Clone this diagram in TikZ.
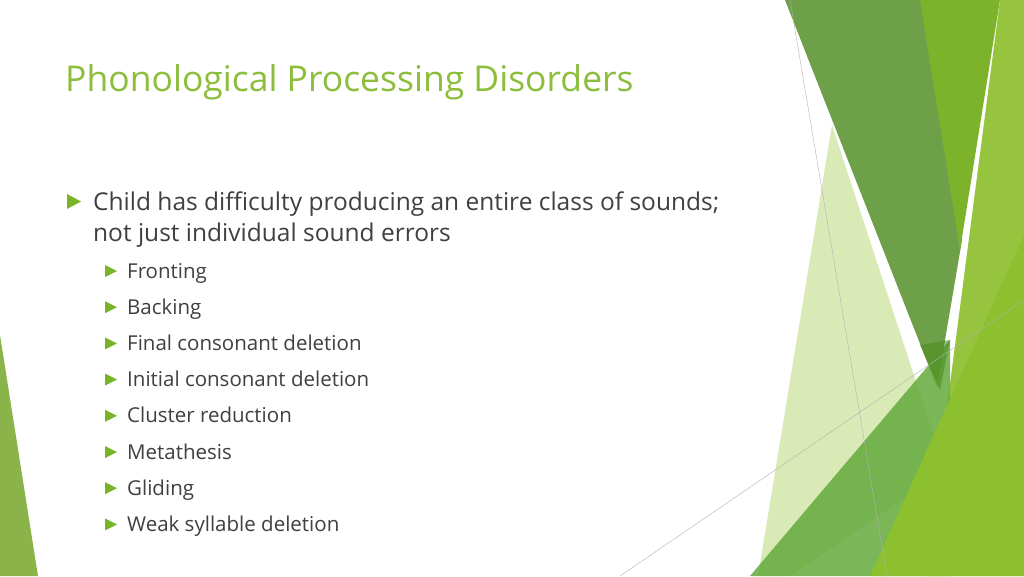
\documentclass[tikz,border=0pt]{standalone}
\usepackage{fontspec}
\setmainfont{Open Sans}
\definecolor{ttl}{RGB}{140,190,60}
\definecolor{txt}{RGB}{64,64,64}
\definecolor{bul}{RGB}{120,180,40}
\definecolor{cA}{RGB}{213,232,176}
\definecolor{cB}{RGB}{110,160,74}
\definecolor{cC}{RGB}{124,179,42}
\definecolor{cD}{RGB}{151,196,62}
\definecolor{cE}{RGB}{100,170,60}
\definecolor{cF}{RGB}{140,192,47}
\definecolor{cG}{RGB}{75,140,30}
\tikzset{
  tri/.style={fill=bul},
  body/.style={anchor=base west,inner sep=0,text=txt,font=\fontsize{24.5}{28}\selectfont},
  sub/.style={anchor=base west,inner sep=0,text=txt,font=\fontsize{20.5}{24}\selectfont},
  hair/.style={draw=black!30,line width=0.4pt}
}
\begin{document}
\begin{tikzpicture}[x=1pt,y=-1pt]
\useasboundingbox (0,0) rectangle (1024,576);
\fill[white] (0,0) rectangle (1024,576);
\fill[ttl!90!black, opacity=0.9] (0,335) -- (38,576) -- (0,576) -- cycle;
\fill[cA, opacity=0.9] (832,125) -- (945,470) -- (790,576) -- (758,576) -- cycle;
\fill[cB] (785,0) -- (927,0) -- (962,240) -- (937,387) -- cycle;
\fill[cC] (920,0) -- (1000,0) -- (960,250) -- cycle;
\fill[cD] (1000,0) -- (1024,0) -- (1024,576) -- (925,576) -- cycle;
\fill[cE, opacity=0.85] (950,340) -- (950,576) -- (750,576) -- cycle;
\fill[cF] (1024,235) -- (1024,576) -- (870,576) -- cycle;
\fill[cG, opacity=0.6] (950,340) -- (940,390) -- (920,345)-- cycle;
\draw[hair] (790,0) -- (887,576);
\draw[hair] (620,576) -- (1024,300);
\node[anchor=base west,inner sep=0,text=ttl,font=\fontsize{35.5}{40}\selectfont] (title) at (65,91) {Phonological Processing Disorders};
\fill[tri] (67,194) -- (81,201.5) -- (67,209) -- cycle;
\node[body] (l1) at (93,210) {Child has difficulty producing an entire class of sounds;};
\node[body] (l2) at (93,241) {not just individual sound errors};
\foreach \tx [count=\i] in {Fronting,Backing,Final consonant deletion,Initial consonant deletion,Cluster reduction,Metathesis,Gliding,Weak syllable deletion}{
  \pgfmathsetmacro\yy{271+36.2*(\i-1)}
  \fill[tri] (105,\yy-6) -- (117,\yy) -- (105,\yy+6) -- cycle;
  \node[sub] (s\i) at (127,\yy+7) {\tx};
}
\end{tikzpicture}
\end{document}
